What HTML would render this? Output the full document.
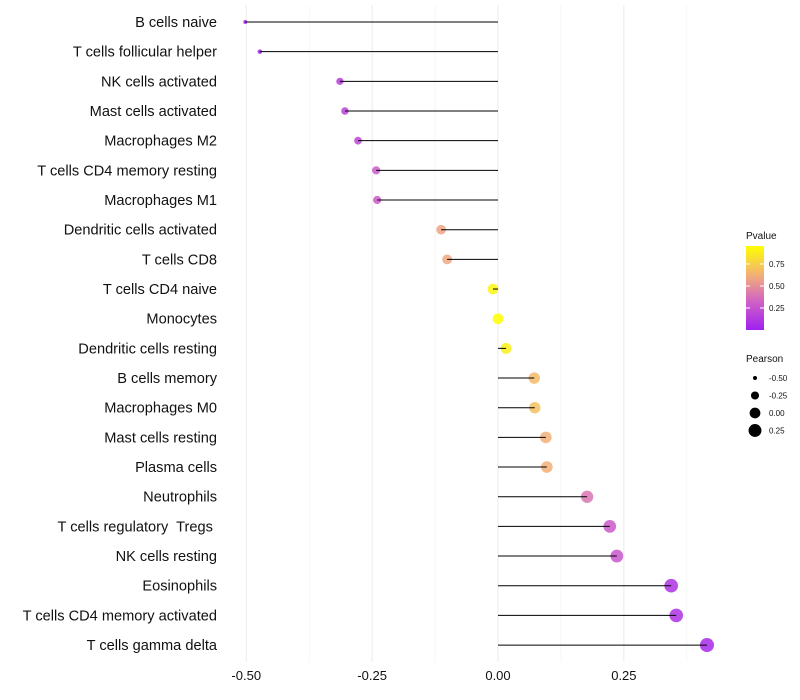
<!DOCTYPE html>
<html><head><meta charset="utf-8"><style>
body{margin:0;background:#fff;}
svg{display:block;font-family:"Liberation Sans",sans-serif;}
text{white-space:pre;}
</style></head><body>
<svg id="chart" width="800" height="700"></svg>
<script>
const categories=["B cells naive","T cells follicular helper","NK cells activated","Mast cells activated","Macrophages M2","T cells CD4 memory resting","Macrophages M1","Dendritic cells activated","T cells CD8","T cells CD4 naive","Monocytes","Dendritic cells resting","B cells memory","Macrophages M0","Mast cells resting","Plasma cells","Neutrophils","T cells regulatory  Tregs ","NK cells resting","Eosinophils","T cells CD4 memory activated","T cells gamma delta"];
const pearson=[-0.502,-0.473,-0.314,-0.304,-0.278,-0.242,-0.240,-0.113,-0.101,-0.010,0.0,0.016,0.072,0.073,0.095,0.097,0.177,0.222,0.236,0.344,0.354,0.415];
const pvalues=[0.02,0.03,0.15,0.17,0.2,0.3,0.3,0.6,0.62,0.95,1.0,0.93,0.7,0.72,0.65,0.65,0.42,0.3,0.28,0.1,0.1,0.05];
const xTicks=[-0.5,-0.25,0,0.25];
const xTickLabels=["-0.50","-0.25","0.00","0.25"];
const xMinor=[-0.375,-0.125,0.125,0.375];
const pTicks=[0.25,0.5,0.75];
const pTickLabels=["0.25","0.50","0.75"];
const sizeVals=[-0.5,-0.25,0,0.25];
const sizeLabels=["-0.50","-0.25","0.00","0.25"];

const NS="http://www.w3.org/2000/svg";
const svg=document.getElementById('chart');
function el(t,a,p){const e=document.createElementNS(NS,t);for(const k in a)e.setAttribute(k,a[k]);(p||svg).appendChild(e);return e;}
const x=v=>498+v*503.5;
const y=i=>22+i*29.67;
const rad=v=>Math.sqrt(4+(v+0.5)/0.92*46);
const stops=[[0,[160,32,240]],[0.35,[210,100,195]],[0.65,[242,175,120]],[1,[255,255,0]]];
function col(p){for(let i=1;i<stops.length;i++){if(p<=stops[i][0]){const a=stops[i-1],b=stops[i];const t=(p-a[0])/(b[0]-a[0]);return 'rgb('+a[1].map((c,j)=>Math.round(c+(b[1][j]-c)*t)).join(',')+')';}}return 'rgb(255,255,0)';}

xMinor.forEach(v=>{const g=el('line',{x1:x(v),x2:x(v),y1:5,y2:662,stroke:'#f2f2f2','stroke-width':0.6});

});
xTicks.forEach((v,i)=>{const g=el('line',{x1:x(v),x2:x(v),y1:5,y2:662,stroke:'#ebebeb','stroke-width':1});


const t=el('text',{x:x(v),y:680,'text-anchor':'middle','font-size':13,fill:'#111'});t.textContent=xTickLabels[i];

});

categories.forEach((c,i)=>{
const t=el('text',{x:217,y:y(i)+5,'text-anchor':'end','font-size':14.6,fill:'#111'});t.textContent=c;


const pt=el('circle',{cx:x(pearson[i]),cy:y(i),r:rad(pearson[i]),fill:col(pvalues[i]),'fill-opacity':0.85});


const l=el('line',{x1:x(0),x2:x(pearson[i]),y1:y(i),y2:y(i),stroke:'#000','stroke-width':1});


});

const lt=el('text',{x:746,y:239,'font-size':10,fill:'#111'});lt.textContent='Pvalue';


const defs=el('defs',{});const gr=el('linearGradient',{id:'pg',x1:0,y1:1,x2:0,y2:0},defs);
stops.forEach(s=>el('stop',{offset:s[0],'stop-color':'rgb('+s[1].join(',')+')'},gr));
const cb=el('rect',{x:746,y:246,width:18,height:84,fill:'url(#pg)'});


const py=p=>330-p*88;
pTicks.forEach((p,i)=>{el('line',{x1:746,x2:750,y1:py(p),y2:py(p),stroke:'#fff'});el('line',{x1:760,x2:764,y1:py(p),y2:py(p),stroke:'#fff'});
const t=el('text',{x:769,y:py(p)+3,'font-size':8,fill:'#111'});t.textContent=pTickLabels[i];

});

const st=el('text',{x:746,y:362,'font-size':10,fill:'#111'});st.textContent='Pearson';


sizeVals.forEach((v,i)=>{const cy=378+i*17.5;
const c=el('circle',{cx:755,cy:cy,r:rad(v),fill:'#000'});


const t=el('text',{x:769,y:cy+3,'font-size':8,fill:'#111'});t.textContent=sizeLabels[i];

});
</script>
</body></html>
